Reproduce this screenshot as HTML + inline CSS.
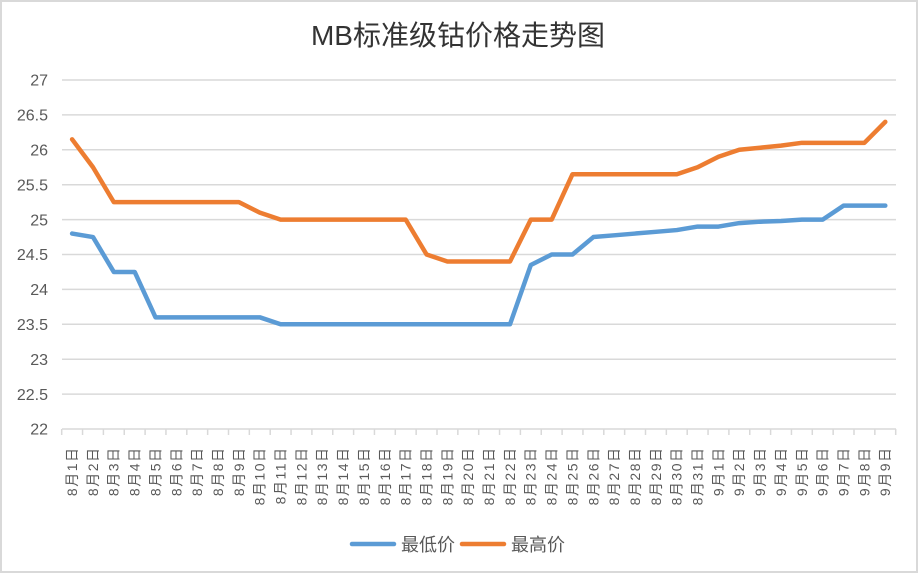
<!DOCTYPE html>
<html>
<head>
<meta charset="utf-8">
<style>
html,body{margin:0;padding:0;background:#fff;}
svg{display:block;}
text{font-family:"Liberation Sans","Noto Sans CJK SC",sans-serif;}
</style>
</head>
<body>
<svg width="919" height="575" viewBox="0 0 919 575" xmlns="http://www.w3.org/2000/svg">
<rect x="0" y="0" width="919" height="575" fill="#fff"/>
<rect x="1" y="1" width="916" height="571" fill="none" stroke="#d9d9d9" stroke-width="2"/>
<text x="458" y="45" text-anchor="middle" font-size="28" fill="#333">MB标准级钴价格走势图</text>
<g stroke="#d9d9d9" stroke-width="1.5">
<line x1="62" y1="80" x2="896" y2="80"/>
<line x1="62" y1="114.9" x2="896" y2="114.9"/>
<line x1="62" y1="149.8" x2="896" y2="149.8"/>
<line x1="62" y1="184.7" x2="896" y2="184.7"/>
<line x1="62" y1="219.6" x2="896" y2="219.6"/>
<line x1="62" y1="254.5" x2="896" y2="254.5"/>
<line x1="62" y1="289.4" x2="896" y2="289.4"/>
<line x1="62" y1="324.3" x2="896" y2="324.3"/>
<line x1="62" y1="359.2" x2="896" y2="359.2"/>
<line x1="62" y1="394.1" x2="896" y2="394.1"/>
<line x1="62" y1="429" x2="896" y2="429"/>
<path fill="none" d="M61.7 429V435M82.55 429V435M103.4 429V435M124.25 429V435M145.1 429V435M165.95 429V435M186.8 429V435M207.65 429V435M228.5 429V435M249.35 429V435M270.2 429V435M291.05 429V435M311.9 429V435M332.75 429V435M353.6 429V435M374.45 429V435M395.3 429V435M416.15 429V435M437 429V435M457.85 429V435M478.7 429V435M499.55 429V435M520.4 429V435M541.25 429V435M562.1 429V435M582.95 429V435M603.8 429V435M624.65 429V435M645.5 429V435M666.35 429V435M687.2 429V435M708.05 429V435M728.9 429V435M749.75 429V435M770.6 429V435M791.45 429V435M812.3 429V435M833.15 429V435M854 429V435M874.85 429V435M895.7 429V435"/>
</g>
<g font-size="16" fill="#595959" text-anchor="end">
<text x="48" y="85.7">27</text>
<text x="48" y="120.6">26.5</text>
<text x="48" y="155.5">26</text>
<text x="48" y="190.4">25.5</text>
<text x="48" y="225.3">25</text>
<text x="48" y="260.2">24.5</text>
<text x="48" y="295.1">24</text>
<text x="48" y="330">23.5</text>
<text x="48" y="364.9">23</text>
<text x="48" y="399.8">22.5</text>
<text x="48" y="434.7">22</text>
</g>
<g font-size="14" fill="#595959" text-anchor="end" letter-spacing="1.5">
<text transform="translate(72.1,446.5) rotate(-90)" dy="0.35em">8月1日</text>
<text transform="translate(93.0,446.5) rotate(-90)" dy="0.35em">8月2日</text>
<text transform="translate(113.8,446.5) rotate(-90)" dy="0.35em">8月3日</text>
<text transform="translate(134.7,446.5) rotate(-90)" dy="0.35em">8月4日</text>
<text transform="translate(155.5,446.5) rotate(-90)" dy="0.35em">8月5日</text>
<text transform="translate(176.4,446.5) rotate(-90)" dy="0.35em">8月6日</text>
<text transform="translate(197.2,446.5) rotate(-90)" dy="0.35em">8月7日</text>
<text transform="translate(218.1,446.5) rotate(-90)" dy="0.35em">8月8日</text>
<text transform="translate(238.9,446.5) rotate(-90)" dy="0.35em">8月9日</text>
<text transform="translate(259.8,446.5) rotate(-90)" dy="0.35em">8月10日</text>
<text transform="translate(280.6,446.5) rotate(-90)" dy="0.35em">8月11日</text>
<text transform="translate(301.5,446.5) rotate(-90)" dy="0.35em">8月12日</text>
<text transform="translate(322.3,446.5) rotate(-90)" dy="0.35em">8月13日</text>
<text transform="translate(343.2,446.5) rotate(-90)" dy="0.35em">8月14日</text>
<text transform="translate(364.0,446.5) rotate(-90)" dy="0.35em">8月15日</text>
<text transform="translate(384.9,446.5) rotate(-90)" dy="0.35em">8月16日</text>
<text transform="translate(405.7,446.5) rotate(-90)" dy="0.35em">8月17日</text>
<text transform="translate(426.6,446.5) rotate(-90)" dy="0.35em">8月18日</text>
<text transform="translate(447.4,446.5) rotate(-90)" dy="0.35em">8月19日</text>
<text transform="translate(468.3,446.5) rotate(-90)" dy="0.35em">8月20日</text>
<text transform="translate(489.1,446.5) rotate(-90)" dy="0.35em">8月21日</text>
<text transform="translate(510.0,446.5) rotate(-90)" dy="0.35em">8月22日</text>
<text transform="translate(530.8,446.5) rotate(-90)" dy="0.35em">8月23日</text>
<text transform="translate(551.7,446.5) rotate(-90)" dy="0.35em">8月24日</text>
<text transform="translate(572.5,446.5) rotate(-90)" dy="0.35em">8月25日</text>
<text transform="translate(593.4,446.5) rotate(-90)" dy="0.35em">8月26日</text>
<text transform="translate(614.2,446.5) rotate(-90)" dy="0.35em">8月27日</text>
<text transform="translate(635.1,446.5) rotate(-90)" dy="0.35em">8月28日</text>
<text transform="translate(655.9,446.5) rotate(-90)" dy="0.35em">8月29日</text>
<text transform="translate(676.8,446.5) rotate(-90)" dy="0.35em">8月30日</text>
<text transform="translate(697.6,446.5) rotate(-90)" dy="0.35em">8月31日</text>
<text transform="translate(718.5,446.5) rotate(-90)" dy="0.35em">9月1日</text>
<text transform="translate(739.3,446.5) rotate(-90)" dy="0.35em">9月2日</text>
<text transform="translate(760.2,446.5) rotate(-90)" dy="0.35em">9月3日</text>
<text transform="translate(781.0,446.5) rotate(-90)" dy="0.35em">9月4日</text>
<text transform="translate(801.9,446.5) rotate(-90)" dy="0.35em">9月5日</text>
<text transform="translate(822.7,446.5) rotate(-90)" dy="0.35em">9月6日</text>
<text transform="translate(843.6,446.5) rotate(-90)" dy="0.35em">9月7日</text>
<text transform="translate(864.4,446.5) rotate(-90)" dy="0.35em">9月8日</text>
<text transform="translate(885.3,446.5) rotate(-90)" dy="0.35em">9月9日</text>
</g>
<polyline fill="none" stroke="#5b9bd5" stroke-width="4.5" stroke-linejoin="round" stroke-linecap="round" points="72.1,233.56 93.0,237.05 113.8,271.95 134.7,271.95 155.5,317.32 176.4,317.32 197.2,317.32 218.1,317.32 238.9,317.32 259.8,317.32 280.6,324.3 301.5,324.3 322.3,324.3 343.2,324.3 364.0,324.3 384.9,324.3 405.7,324.3 426.6,324.3 447.4,324.3 468.3,324.3 489.1,324.3 510.0,324.3 530.8,264.97 551.7,254.5 572.5,254.5 593.4,237.05 614.2,235.31 635.1,233.56 655.9,231.82 676.8,230.07 697.6,226.58 718.5,226.58 739.3,223.09 760.2,221.69 781.0,221.0 801.9,219.6 822.7,219.6 843.6,205.64 864.4,205.64 885.3,205.64"/>
<polyline fill="none" stroke="#ed7d31" stroke-width="4.5" stroke-linejoin="round" stroke-linecap="round" points="72.1,139.33 93.0,167.25 113.8,202.15 134.7,202.15 155.5,202.15 176.4,202.15 197.2,202.15 218.1,202.15 238.9,202.15 259.8,212.62 280.6,219.6 301.5,219.6 322.3,219.6 343.2,219.6 364.0,219.6 384.9,219.6 405.7,219.6 426.6,254.5 447.4,261.48 468.3,261.48 489.1,261.48 510.0,261.48 530.8,219.6 551.7,219.6 572.5,174.23 593.4,174.23 614.2,174.23 635.1,174.23 655.9,174.23 676.8,174.23 697.6,167.25 718.5,156.78 739.3,149.8 760.2,147.71 781.0,145.61 801.9,142.82 822.7,142.82 843.6,142.82 864.4,142.82 885.3,121.88"/>
<line x1="352" y1="544" x2="394" y2="544" stroke="#5b9bd5" stroke-width="4.5" stroke-linecap="round"/>
<text x="401" y="551" font-size="18" fill="#595959">最低价</text>
<line x1="462" y1="544" x2="504" y2="544" stroke="#ed7d31" stroke-width="4.5" stroke-linecap="round"/>
<text x="511" y="551" font-size="18" fill="#595959">最高价</text>
</svg>
</body>
</html>
